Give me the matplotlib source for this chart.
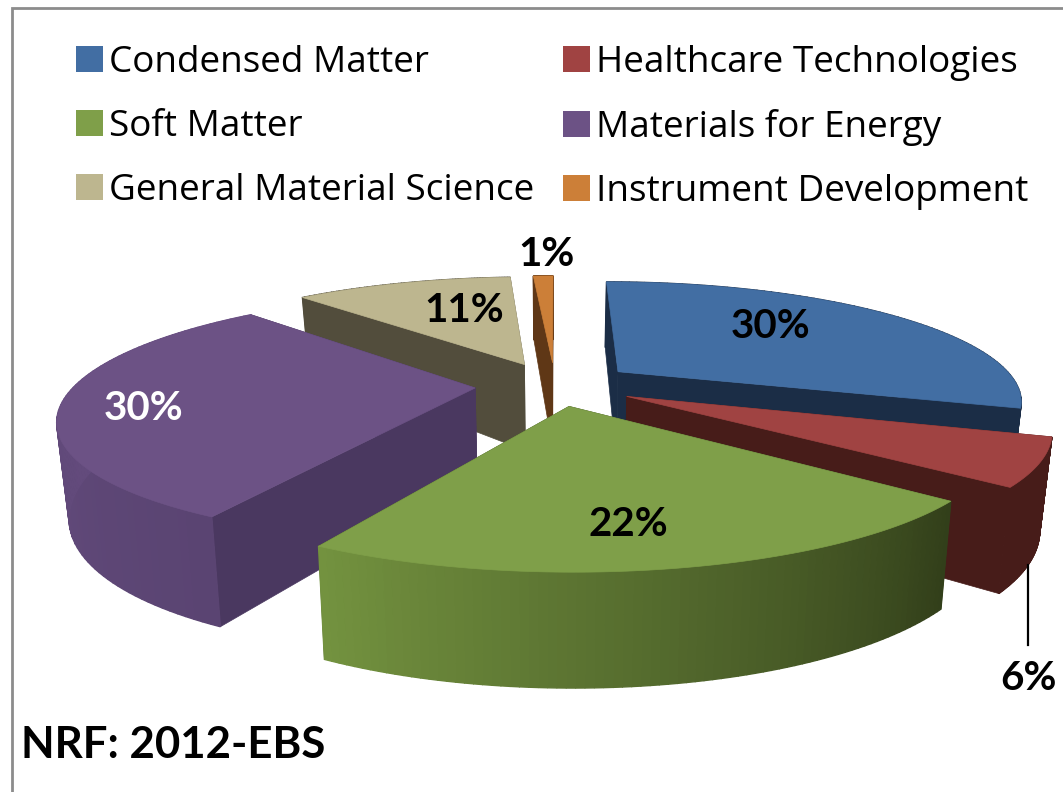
import matplotlib
matplotlib.use('Agg')
import matplotlib.pyplot as plt
from matplotlib.colors import to_rgb
from matplotlib.patches import Patch, Polygon
import numpy as np

categories = ['Condensed Matter', 'Healthcare Technologies', 'Soft Matter',
              'Materials for Energy', 'General Material Science', 'Instrument Development']
values = [30, 6, 22, 30, 11, 1]
labels = ['30%', '6%', '22%', '30%', '11%', '1%']

top_colors = ['#426EA3', '#A04342', '#7F9F49', '#6C5285', '#BDB68F', '#CC7F38']
cut_colors = ['#1B2D46', '#471C19', '#36441E', '#4A3860', '#524D3C', '#5F3716']
side_left = ['#1B2D46', '#471C19', '#73923F', '#6A5084', '#524D3C', '#5F3716']
side_right = ['#1B2D46', '#471C19', '#323F1A', '#5A4472', '#524D3C', '#5F3716']
explode = [0.2, 0.2, 0.18, 0.2, 0.2, 0.2]
label_pos = [(771, 326), (1028, 678), (628, 524), (144, 408), (464, 310), (546, 255)]
label_col = ['black', 'black', 'black', 'white', 'black', 'black']

# fake 3d projection, pie plane onto the picture
CX, CY = 555, 385
RX, RY = 400, 116
K = 0.23


def project(x, y):
    s = 1 / (1 + K * y)
    return CX + RX * x * s, CY - RY * y * s


def drop(x, y):
    px, py = project(x, y)
    return CX + (px - CX) * 0.975, py + 90 - 22 * y


def mix(a, b, t):
    return tuple((1 - t) * np.array(to_rgb(a)) + t * np.array(to_rgb(b)))


fig = plt.figure(figsize=(10.63, 7.92), dpi=100)
ax = fig.add_axes([0, 0, 1, 1])
ax.set_xlim(0, 1063)
ax.set_ylim(792, 0)
ax.set_axis_off()

edges = np.deg2rad(np.concatenate([[0], np.cumsum(values)]) * 3.6)
order = [4, 5, 0, 3, 1, 2]

for i in order:
    a0, a1 = edges[i], edges[i + 1]
    mid = (a0 + a1) / 2
    ox, oy = explode[i] * np.sin(mid), explode[i] * np.cos(mid)
    th = np.linspace(a0, a1, 80)
    xs, ys = ox + np.sin(th), oy + np.cos(th)

    top = [project(ox, oy)] + [project(a, b) for a, b in zip(xs, ys)]
    for j in (0, -1):
        face = [project(ox, oy), project(xs[j], ys[j]), drop(xs[j], ys[j]), drop(ox, oy)]
        ax.add_patch(Polygon(face, closed=True, fc=cut_colors[i], ec=cut_colors[i], lw=0.5))

    # outer wall in small pieces so it can carry the gradient
    for j in range(len(th) - 1):
        quad = [project(xs[j], ys[j]), project(xs[j + 1], ys[j + 1]),
                drop(xs[j + 1], ys[j + 1]), drop(xs[j], ys[j])]
        c = mix(side_right[i], side_left[i], j / (len(th) - 2))
        ax.add_patch(Polygon(quad, closed=True, fc=c, ec=c, lw=1))

    ax.add_patch(Polygon(top, closed=True, fc=top_colors[i], ec=top_colors[i], lw=0.5))

ax.plot([1028, 1028], [565, 645], color='black', lw=1.6, zorder=1)

for txt, pos, c in zip(labels, label_pos, label_col):
    ax.text(pos[0], pos[1], txt, color=c, fontsize=29, fontweight='bold', family='Lato',
            ha='center', va='center')

ax.text(21, 745, 'NRF: 2012-EBS', fontsize=31.5, fontweight='bold', family='Lato',
        ha='left', va='center')

ax.plot([12, 12, 1063], [792, 8, 8], color='#8C8C8C', lw=2, solid_joinstyle='miter')

leg_order = [0, 2, 4, 1, 3, 5]
handles = [Patch(fc=top_colors[i], ec='none', label=categories[i]) for i in leg_order]
ax.legend(handles=handles, ncol=2, frameon=False, loc='upper left',
          bbox_to_anchor=(76 / 1063, 1 - 45 / 792), borderpad=0, borderaxespad=0,
          prop={'family': 'Open Sans', 'size': 26.6}, handlelength=0.72, handleheight=0.72,
          handletextpad=0.17, labelspacing=0.76, columnspacing=0.78)

fig.savefig('out.png', dpi=100)
